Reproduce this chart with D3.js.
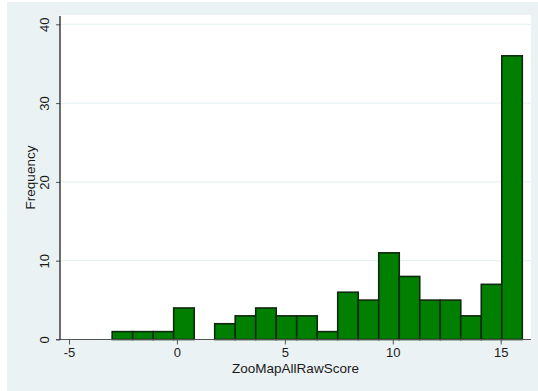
<!DOCTYPE html>
<html>
<head>
<meta charset="utf-8">
<script src="https://cdn.jsdelivr.net/npm/d3@7"></script>
<style>
  html, body { margin: 0; padding: 0; background: #ffffff; }
  svg { display: block; }
  text { font-family: "Liberation Sans", Arial, Helvetica, sans-serif; fill: #1a1a1a; }
</style>
</head>
<body>
<svg id="chart" width="538" height="391"></svg>
<script>
// Histogram of ZooMapAllRawScore: 20 bins of width 0.95 starting at -3
const binStart = -3;
const binWidth = 0.95;
const counts = [1, 1, 1, 4, 0, 2, 3, 4, 3, 3, 1, 6, 5, 11, 8, 5, 5, 3, 7, 36];
const xTicks = [-5, 0, 5, 10, 15];
const yTicks = [0, 10, 20, 30, 40];
const xTitle = "ZooMapAllRawScore";
const yTitle = "Frequency";

const bins = counts.map((c, i) => ({
  x0: binStart + i * binWidth,
  x1: binStart + (i + 1) * binWidth,
  count: c
}));

const svg = d3.select("#chart");
const W = 538, H = 391;

// graph region background
svg.append("rect")
  .attr("x", 7).attr("y", 2)
  .attr("width", W - 7).attr("height", H - 2)
  .attr("fill", "#eaf2f3");

const plot = { left: 60, right: 531, top: 15, bottom: 340 };

// plot region
svg.append("rect")
  .attr("x", plot.left).attr("y", plot.top)
  .attr("width", plot.right - plot.left)
  .attr("height", plot.bottom - plot.top)
  .attr("fill", "#ffffff");

const x = d3.scaleLinear().domain([-5, 15]).range([69, 500.7]);
const y = d3.scaleLinear().domain([0, 40]).range([339.5, 24.3]);

// horizontal grid lines
svg.append("g")
  .selectAll("line")
  .data(yTicks.filter(t => t > 0))
  .join("line")
  .attr("x1", plot.left).attr("x2", plot.right)
  .attr("y1", d => y(d)).attr("y2", d => y(d))
  .attr("stroke", "#eaf2f3")
  .attr("stroke-width", 1.2);

// bars
svg.append("g")
  .selectAll("rect")
  .data(bins.filter(b => b.count > 0))
  .join("rect")
  .attr("x", d => x(d.x0))
  .attr("y", d => y(d.count))
  .attr("width", d => x(d.x1) - x(d.x0))
  .attr("height", d => y(0) - y(d.count))
  .attr("fill", "#007f00")
  .attr("stroke", "#0e2a0e")
  .attr("stroke-width", 1.6);

const plainFormat = d => String(d);

// x axis
const xAxis = svg.append("g")
  .attr("transform", `translate(0,${y(0)})`)
  .call(d3.axisBottom(x).tickValues(xTicks).tickSize(5).tickPadding(3).tickFormat(plainFormat));
xAxis.select(".domain").remove();
xAxis.append("line")
  .attr("x1", 56).attr("x2", plot.right)
  .attr("y1", 0).attr("y2", 0)
  .attr("stroke", "#555555").attr("stroke-width", 1.2);
xAxis.selectAll(".tick line").attr("stroke", "#555555");
xAxis.selectAll(".tick text")
  .style("font-size", "13px")
  .attr("fill", "#1a1a1a");

// y axis
const yAxis = svg.append("g")
  .attr("transform", `translate(${plot.left},0)`)
  .call(d3.axisLeft(y).tickValues(yTicks).tickSize(4).tickFormat(plainFormat));
yAxis.select(".domain").remove();
yAxis.append("line")
  .attr("x1", 0).attr("x2", 0)
  .attr("y1", 16).attr("y2", y(0))
  .attr("stroke", "#111111").attr("stroke-width", 1.2);
yAxis.selectAll(".tick line").attr("stroke", "#555555");
yAxis.selectAll(".tick text")
  .attr("x", null).attr("dy", null)
  .attr("text-anchor", "middle")
  .attr("transform", "translate(-11,0) rotate(-90)")
  .style("font-size", "13px")
  .attr("fill", "#1a1a1a");

// axis titles
svg.append("text")
  .attr("x", (plot.left + plot.right) / 2)
  .attr("y", 373)
  .attr("text-anchor", "middle")
  .style("font-size", "13.5px")
  .text(xTitle);

svg.append("text")
  .attr("transform", `translate(34.5,${(plot.top + plot.bottom) / 2}) rotate(-90)`)
  .attr("text-anchor", "middle")
  .style("font-size", "13.5px")
  .text(yTitle);
</script>
</body>
</html>
